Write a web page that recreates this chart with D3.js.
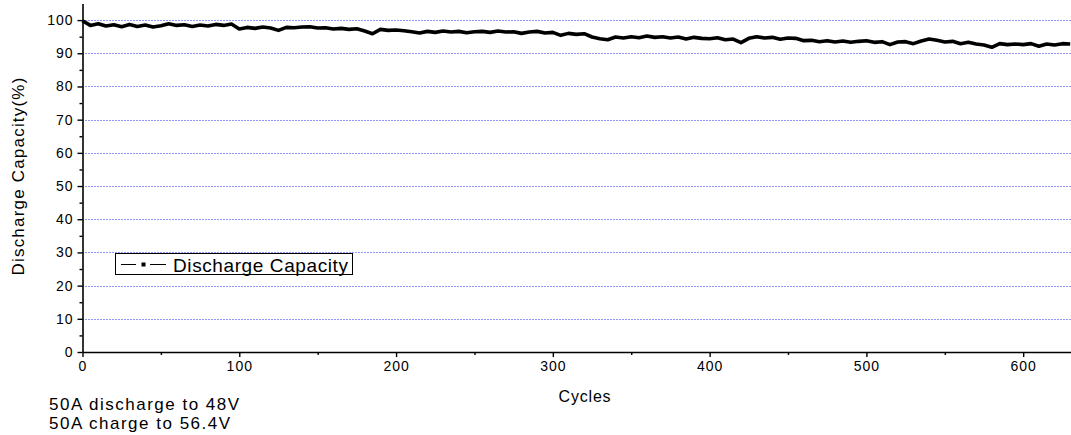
<!DOCTYPE html>
<html>
<head>
<meta charset="utf-8">
<script src="https://cdn.jsdelivr.net/npm/d3@7"></script>
<style>
  body { margin: 0; background: #fff; }
  svg { display: block; font-family: "Liberation Sans", Arial, sans-serif; }
</style>
</head>
<body>
<svg id="chart" width="1071" height="435"></svg>
<script>
// cycle number for every sample (every 5 cycles)
const cycles = d3.range(0, 631, 5);

// discharge capacity in %
const capacity = [
  99.8, 98.4, 98.9, 98.2, 98.6, 98.0, 98.7, 98.1, 98.5, 97.9,
  98.3, 98.9, 98.4, 98.6, 98.1, 98.5, 98.2, 98.7, 98.4, 98.8,
  97.3, 97.8, 97.5, 97.9, 97.6, 96.9, 97.8, 97.7, 97.9, 98.0,
  97.6, 97.7, 97.3, 97.5, 97.2, 97.4, 96.7, 95.9, 97.2, 96.9,
  97.0, 96.8, 96.5, 96.1, 96.6, 96.3, 96.7, 96.4, 96.6, 96.2,
  96.5, 96.6, 96.3, 96.7, 96.4, 96.5, 96.0, 96.4, 96.6, 96.1,
  96.3, 95.4, 96.0, 95.7, 95.9, 94.9, 94.4, 94.1, 94.9, 94.6,
  95.0, 94.7, 95.2, 94.8, 95.0, 94.6, 94.9, 94.3, 94.8, 94.5,
  94.4, 94.7, 94.1, 94.3, 93.2, 94.5, 95.0, 94.6, 94.8, 94.2,
  94.6, 94.5, 93.8, 93.9, 93.5, 93.8, 93.4, 93.7, 93.3, 93.6,
  93.8, 93.3, 93.5, 92.6, 93.4, 93.5, 92.9, 93.7, 94.3, 93.9,
  93.4, 93.6, 92.9, 93.3, 92.8, 92.5, 91.8, 92.9, 92.6, 92.8,
  92.6, 92.9, 92.1, 92.8, 92.5, 92.9, 92.8
];

const xTicks = [0, 100, 200, 300, 400, 500, 600];
const yTicks = [0, 10, 20, 30, 40, 50, 60, 70, 80, 90, 100];
const seriesName = "Discharge Capacity";
const notes = ["50A discharge to 48V", "50A charge to 56.4V"];

const svg = d3.select("#chart");
const plotLeft = 82.5, plotRight = 1071, plotBottom = 352, plotTop = 3.5;

const x = d3.scaleLinear().domain([0, 630.5]).range([plotLeft, plotRight]);
const y = d3.scaleLinear().domain([0, 105]).range([plotBottom, plotTop]);

// dotted blue grid
svg.append("g")
  .selectAll("line")
  .data(yTicks.filter(d => d > 0))
  .join("line")
  .attr("x1", plotLeft).attr("x2", plotRight)
  .attr("y1", d => Math.round(y(d)) + 0.5).attr("y2", d => Math.round(y(d)) + 0.5)
  .attr("stroke", "#2b2bff")
  .attr("stroke-width", 1)
  .attr("stroke-dasharray", "1,2");

// minor ticks
const xMinor = d3.range(50, 631, 100);
const yMinor = d3.range(5, 105, 10);

svg.append("g")
  .attr("transform", `translate(0,${plotBottom})`)
  .call(d3.axisBottom(x).tickValues(xTicks).tickSize(5).tickSizeOuter(0).tickPadding(4).tickFormat(d3.format("d")));
svg.append("g")
  .attr("transform", `translate(0,${plotBottom})`)
  .call(d3.axisBottom(x).tickValues(xMinor).tickSize(3).tickSizeOuter(0).tickFormat(""))
  .select(".domain").remove();

svg.append("g")
  .attr("transform", `translate(${plotLeft},0)`)
  .call(d3.axisLeft(y).tickValues(yTicks).tickSize(5).tickSizeOuter(0).tickPadding(4).tickFormat(d3.format("d")));
svg.append("g")
  .attr("transform", `translate(${plotLeft},0)`)
  .call(d3.axisLeft(y).tickValues(yMinor).tickSize(3).tickSizeOuter(0).tickFormat(""))
  .select(".domain").remove();

svg.selectAll(".domain").attr("stroke", "#000").attr("stroke-width", 1.6);
svg.selectAll(".tick line").attr("stroke", "#000").attr("stroke-width", 1.4);
svg.selectAll(".tick text")
  .attr("fill", "#000")
  .style("font-size", "14px")
  .style("letter-spacing", "1px")
  .style("font-family", "Liberation Sans, Arial, sans-serif");

// the series
const data = cycles.map((c, i) => ({ c: c, v: capacity[i] }));
svg.append("path")
  .datum(data)
  .attr("fill", "none")
  .attr("stroke", "#000")
  .attr("stroke-width", 3.6)
  .attr("stroke-linejoin", "round")
  .attr("d", d3.line().x(d => x(d.c)).y(d => y(d.v)));

// axis titles
svg.append("text")
  .attr("x", 585).attr("y", 402)
  .attr("text-anchor", "middle")
  .style("font-size", "16px")
  .style("letter-spacing", "0.8px")
  .text("Cycles");

svg.append("text")
  .attr("transform", "translate(24,176) rotate(-90)")
  .attr("text-anchor", "middle")
  .style("font-size", "17px")
  .style("letter-spacing", "1.2px")
  .text("Discharge Capacity(%)");

// legend
const legend = svg.append("g");
legend.append("rect")
  .attr("x", 115.5).attr("y", 253.5)
  .attr("width", 237).attr("height", 21)
  .attr("fill", "#fff").attr("stroke", "#000").attr("stroke-width", 1);
legend.append("line")
  .attr("x1", 121).attr("x2", 136).attr("y1", 264.5).attr("y2", 264.5)
  .attr("stroke", "#000");
legend.append("rect")
  .attr("x", 141.5).attr("y", 262.5).attr("width", 4).attr("height", 4)
  .attr("fill", "#000");
legend.append("line")
  .attr("x1", 150).attr("x2", 166).attr("y1", 264.5).attr("y2", 264.5)
  .attr("stroke", "#000");
legend.append("text")
  .attr("x", 173).attr("y", 271.5)
  .style("font-size", "19px")
  .style("letter-spacing", "0.6px")
  .text(seriesName);

// test conditions
svg.selectAll(".note")
  .data(notes)
  .join("text")
  .attr("class", "note")
  .attr("x", 49)
  .attr("y", (d, i) => 410 + i * 19)
  .style("font-size", "17px")
  .style("letter-spacing", "1.5px")
  .text(d => d);
</script>
</body>
</html>
